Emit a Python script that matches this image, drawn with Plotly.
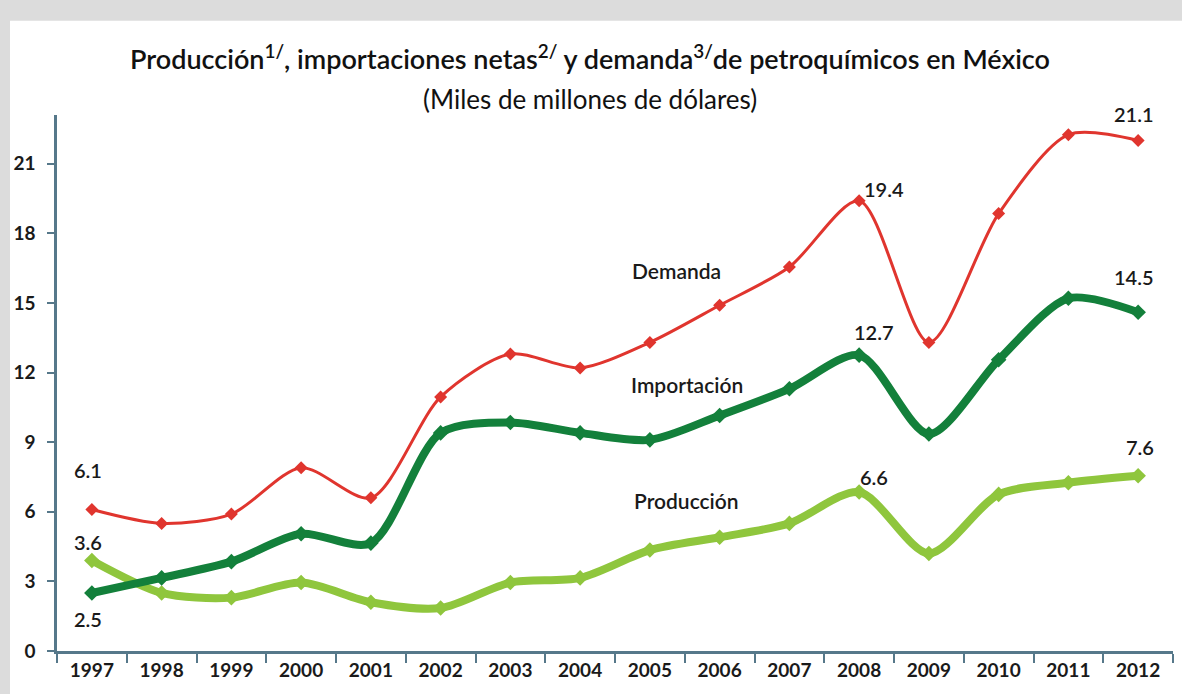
import plotly.graph_objects as go

years = list(range(1997, 2013))
demanda = [6.1, 5.5, 5.9, 7.9, 6.6, 10.95, 12.8, 12.2, 13.3, 14.9, 16.55, 19.4, 13.3, 18.85, 22.25, 22.0]
importacion = [2.5, 3.15, 3.85, 5.05, 4.65, 9.4, 9.85, 9.4, 9.1, 10.15, 11.3, 12.75, 9.35, 12.55, 15.2, 14.6]
produccion = [3.9, 2.5, 2.3, 2.95, 2.1, 1.85, 2.95, 3.15, 4.35, 4.9, 5.5, 6.85, 4.2, 6.75, 7.25, 7.55]

y_ticks = [0, 3, 6, 9, 12, 15, 18, 21]

# value labels shown on the chart: (series, year, text, xshift, yshift)
value_labels = [
    ("demanda", 1997, "6.1", -4, 39),
    ("produccion", 1997, "3.6", -4, 19),
    ("importacion", 1997, "2.5", -4, -26),
    ("demanda", 2008, "19.4", 25, 12),
    ("importacion", 2008, "12.7", 15, 23),
    ("produccion", 2008, "6.6", 15, 15),
    ("demanda", 2012, "21.1", -4, 27),
    ("importacion", 2012, "14.5", -4, 35),
    ("produccion", 2012, "7.6", 2, 29),
]
series_names = [("Demanda", 2005.38, 16.4), ("Importación", 2005.53, 11.47), ("Producción", 2005.53, 6.5)]

RED = "#e0352e"
DKGREEN = "#13803b"
LTGREEN = "#8fc63d"
FONT = "Lato"

data_map = {"demanda": demanda, "importacion": importacion, "produccion": produccion}

fig = go.Figure()
fig.add_trace(go.Scatter(x=years, y=produccion, mode="lines+markers",
                         line=dict(color=LTGREEN, width=8, shape="spline", smoothing=0.8),
                         marker=dict(symbol="diamond", size=12, color=LTGREEN)))
fig.add_trace(go.Scatter(x=years, y=importacion, mode="lines+markers",
                         line=dict(color=DKGREEN, width=8, shape="spline", smoothing=0.8),
                         marker=dict(symbol="diamond", size=12, color=DKGREEN)))
fig.add_trace(go.Scatter(x=years, y=demanda, mode="lines+markers",
                         line=dict(color=RED, width=3, shape="spline", smoothing=0.8),
                         marker=dict(symbol="diamond", size=10, color=RED)))

annotations = []
for key, yr, txt, xs, ys in value_labels:
    annotations.append(dict(x=yr, y=data_map[key][years.index(yr)], text=txt, showarrow=False,
                            xshift=xs, yshift=ys,
                            font=dict(family=FONT, size=20, color="#1a1a1a", weight=600)))
for name, xx, yy in series_names:
    annotations.append(dict(x=xx, y=yy, text=name, showarrow=False,
                            font=dict(family=FONT, size=21, color="#1a1a1a", weight=600)))

annotations.append(dict(xref="paper", yref="paper", x=0.478, y=1.108, xanchor="center", yanchor="middle",
                        text="Producción<sup>1/</sup>, importaciones netas<sup>2/</sup> y demanda<sup>3/</sup>de petroquímicos en México",
                        showarrow=False, font=dict(family=FONT, size=27, color="#111111", weight=600)))
annotations.append(dict(xref="paper", yref="paper", x=0.478, y=1.03, xanchor="center", yanchor="middle",
                        text="(Miles de millones de dólares)", showarrow=False,
                        font=dict(family=FONT, size=26, color="#111111")))

shapes = [
    dict(type="rect", xref="paper", yref="paper", x0=-0.0421, x1=1.01, y0=-0.09, y1=1.176,
         fillcolor="white", line=dict(width=0), layer="below"),
]

fig.update_layout(
    width=1182, height=694,
    margin=dict(l=57, r=9, t=115, b=43),
    paper_bgcolor="#dcdcdc",
    plot_bgcolor="white",
    showlegend=False,
    annotations=annotations,
    shapes=shapes,
    xaxis=dict(range=[1996.5, 2012.5], tickvals=years, ticktext=[str(y) for y in years],
               showgrid=False, zeroline=False, showline=True, linecolor="#56788a", linewidth=2.5,
               ticks="", tickfont=dict(family=FONT, size=19, color="#1a1a1a", weight=700),
               minor=dict(tick0=1996.5, dtick=1, ticks="outside", ticklen=9, tickwidth=2, tickcolor="#56788a")),
    yaxis=dict(range=[0, 23.1], tickvals=y_ticks, showgrid=False, zeroline=False,
               showline=True, linecolor="#56788a", linewidth=2.5,
               ticks="outside", ticklen=7, tickwidth=2, tickcolor="#56788a",
               ticklabelstandoff=8,
               tickfont=dict(family=FONT, size=19, color="#1a1a1a", weight=700)),
)

fig.write_html("out.html", config={"displayModeBar": False},
               post_script="document.body.style.margin='0';document.body.style.overflow='hidden';")
